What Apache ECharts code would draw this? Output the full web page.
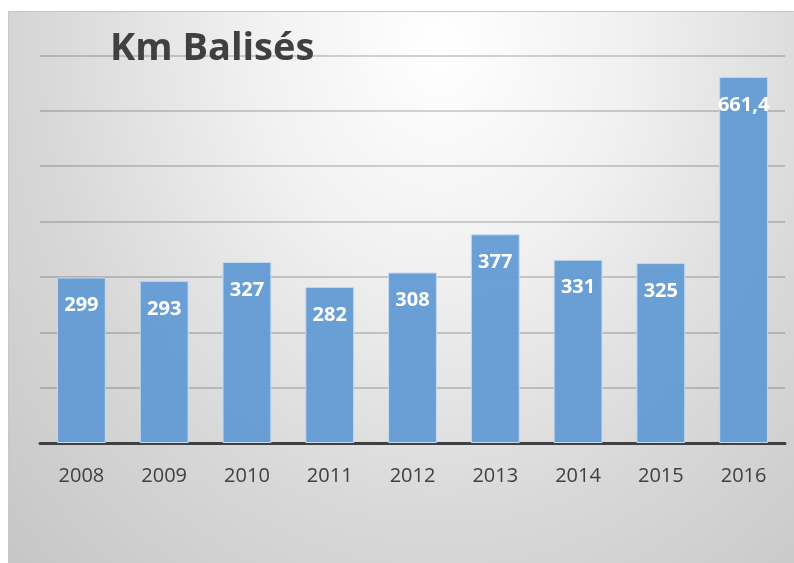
<!DOCTYPE html>
<html><head><meta charset="utf-8">
<script src="https://cdn.jsdelivr.net/npm/echarts@6/dist/echarts.min.js"></script>
<style>
html,body{margin:0;padding:0;width:794px;height:563px;background:#fff;overflow:hidden}
#c{position:absolute;left:8px;top:11px;width:786px;height:552px;box-sizing:border-box;border-top:1px solid #c8c8c8;border-left:1px solid #c8c8c8;
background:radial-gradient(ellipse at 55% 6%, #ffffff 0%, #f1f1f1 30%, #d8d8d8 65%, #c6c6c6 100%);}
</style></head>
<body><div id="c"></div>
<script>
const titleText = "Km Balisés";
const categories = ["2008","2009","2010","2011","2012","2013","2014","2015","2016"];
const values = [299, 293, 327, 282, 308, 377, 331, 325, 661.4];
const yMin = 0, yMax = 700, yInterval = 100;

const chart = echarts.init(document.getElementById('c'), null, {renderer:'canvas'});
chart.setOption({
  backgroundColor: 'transparent',
  animation: false,
  title: {
    text: titleText, left: 96, top: 13,
    textStyle: {fontFamily: 'Open Sans', fontWeight: 'bold', fontSize: 38, color: '#404040'}
  },
  grid: {left: 31, right: 9, top: 43.5, bottom: 120, containLabel: false},
  xAxis: {
    type: 'category', data: categories,
    axisLine: {show: true, lineStyle: {color: '#404040', width: 3}},
    axisTick: {show: false},
    axisLabel: {color: '#404040', fontFamily: 'Open Sans', fontSize: 20, margin: 23}
  },
  yAxis: {
    type: 'value', min: yMin, max: yMax, interval: yInterval,
    axisLine: {show: false}, axisTick: {show: false}, axisLabel: {show: false},
    splitLine: {lineStyle: {color: 'rgba(0,0,0,0.17)', width: 2}}
  },
  series: [{
    type: 'bar', data: values, barWidth: '59%',
    itemStyle: {color: 'rgba(98,155,211,0.95)', borderColor: '#c2dbf2', borderWidth: 1},
    label: {
      show: true, position: 'insideTop', distance: 18,
      color: '#ffffff', fontFamily: 'Open Sans', fontWeight: 'bold', fontSize: 20,
      formatter: p => String(p.value).replace('.', ',')
    }
  }]
});
</script></body></html>
